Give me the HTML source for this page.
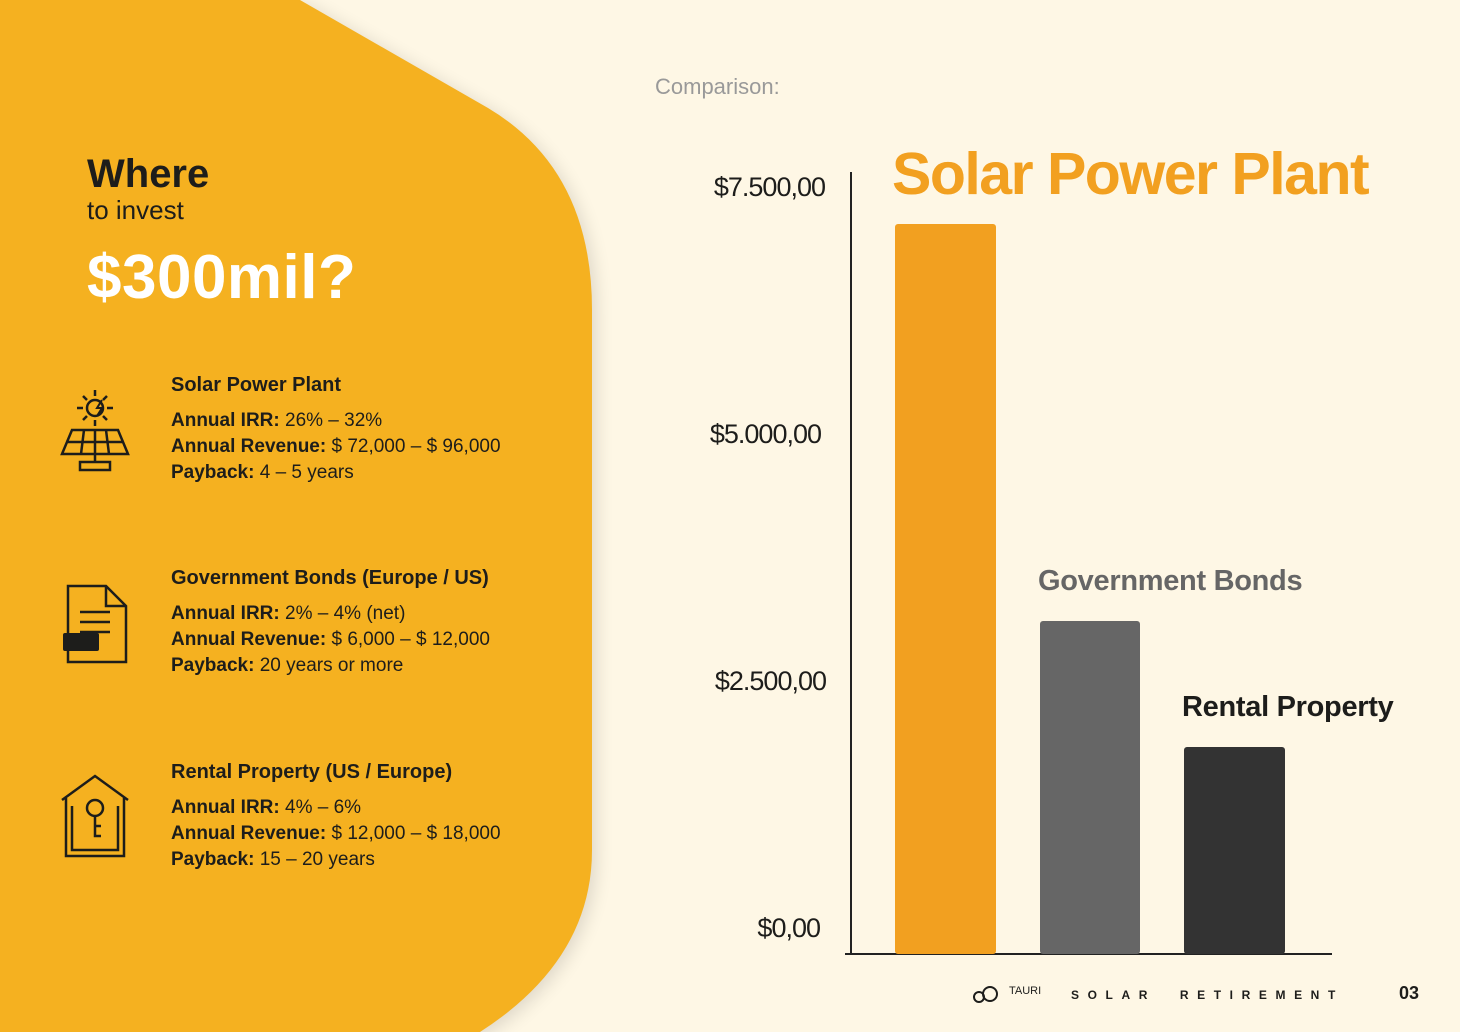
<!DOCTYPE html>
<html><head><meta charset="utf-8"><style>
body{margin:0;width:1460px;height:1032px;background:#FEF7E5;position:relative;overflow:hidden;font-family:"Liberation Sans",sans-serif;color:#1d1d1b}
.a{position:absolute;white-space:nowrap}
.d p{margin:0;font-size:19px;line-height:26px}
.d b{font-weight:bold}
</style></head><body>
<svg class="a" style="left:0;top:0" width="1460" height="1032">
<defs><filter id="s" x="-20%" y="-20%" width="140%" height="140%"><feGaussianBlur stdDeviation="9"/></filter></defs>
<path d="M0,0 L300,0 L488,108 Q592,170 592,310 L592,850 Q592,960 480,1032 L0,1032 Z" fill="#000" opacity="0.13" filter="url(#s)" transform="translate(4,4)"/>
<path d="M0,0 L300,0 L488,108 Q592,170 592,310 L592,850 Q592,960 480,1032 L0,1032 Z" fill="#F5B120"/>
<line x1="851" y1="172" x2="851" y2="955" stroke="#222" stroke-width="2"/>
<line x1="845" y1="954" x2="1332" y2="954" stroke="#222" stroke-width="2"/>
<rect x="895" y="224" width="101" height="730" rx="3" fill="#F2A020"/>
<rect x="1040" y="621" width="100" height="333" rx="3" fill="#666"/>
<rect x="1184" y="747" width="101" height="207" rx="3" fill="#333"/>
<g fill="none" stroke="#1d1d1b" stroke-width="2.5">
<circle cx="95" cy="408" r="8"/><path d="M95,390v6M95,420v6M77,408h6M107,408h6M83,396l4,4M107,396l-4,4M83,420l4-4M107,420l-4-4"/>
<path d="M72,430h46l10,24H62Z M66,442h58 M84,430l-3,24 M95,430v24 M106,430l3,24 M95,454v8 M80,462h30v8H80Z"/>
<path d="M68,586h38l20,20v56H68Z M106,586v20h20 M80,612h30M80,622h30M80,632h30"/>
<path d="M62,800l33-24 33,24 M66,798v58h58v-58 M72,806v44h46v-44"/>
<circle cx="95" cy="808" r="8"/><path d="M95,816v20h6M95,826h6"/>
</g>
<rect x="63" y="633" width="36" height="18" rx="2" fill="#1d1d1b"/>
<path d="M102,400l-5,8h5l-5,8" stroke="#1d1d1b" stroke-width="2" fill="none"/>
<g fill="none" stroke="#1d1d1b" stroke-width="2"><circle cx="990" cy="994" r="7"/><circle cx="979" cy="997" r="5"/></g>
</svg>
<div class="a" style="left:87px;top:152px;font-size:40px;font-weight:bold">Where</div>
<div class="a" style="left:87px;top:195px;font-size:26px">to invest</div>
<div class="a" style="left:87px;top:242px;font-size:62px;font-weight:bold;color:#fff;letter-spacing:0.5px">$300mil?</div>
<div class="a d" style="left:171px;top:372px"><p style="font-size:20px;font-weight:bold">Solar Power Plant</p><p style="margin-top:10px"><b>Annual IRR:</b> 26% – 32%</p><p><b>Annual Revenue:</b> $ 72,000 – $ 96,000</p><p><b>Payback:</b> 4 – 5 years</p></div>
<div class="a d" style="left:171px;top:565px"><p style="font-size:20px;font-weight:bold">Government Bonds (Europe / US)</p><p style="margin-top:10px"><b>Annual IRR:</b> 2% – 4% (net)</p><p><b>Annual Revenue:</b> $ 6,000 – $ 12,000</p><p><b>Payback:</b> 20 years or more</p></div>
<div class="a d" style="left:171px;top:759px"><p style="font-size:20px;font-weight:bold">Rental Property (US / Europe)</p><p style="margin-top:10px"><b>Annual IRR:</b> 4% – 6%</p><p><b>Annual Revenue:</b> $ 12,000 – $ 18,000</p><p><b>Payback:</b> 15 – 20 years</p></div>
<div class="a" style="left:655px;top:74px;font-size:22px;color:#999">Comparison:</div>
<div class="a" style="right:635px;top:172px;font-size:27px;letter-spacing:-1px">$7.500,00</div>
<div class="a" style="right:639px;top:419px;font-size:27px;letter-spacing:-1px">$5.000,00</div>
<div class="a" style="right:634px;top:666px;font-size:27px;letter-spacing:-1px">$2.500,00</div>
<div class="a" style="right:640px;top:913px;font-size:27px;letter-spacing:-1px">$0,00</div>
<div class="a" style="left:892px;top:140px;font-size:59px;font-weight:bold;color:#F2A020;letter-spacing:-1.5px">Solar Power Plant</div>
<div class="a" style="left:1038px;top:565px;font-size:29px;font-weight:bold;color:#666;letter-spacing:-0.3px">Government Bonds</div>
<div class="a" style="left:1182px;top:691px;font-size:29px;font-weight:bold;color:#1d1d1b;letter-spacing:-0.3px">Rental Property</div>
<div class="a" style="left:1009px;top:985px;font-size:11px">TAURI</div>
<div class="a" style="left:1071px;top:988px;font-size:12px;font-weight:bold;letter-spacing:8.6px">SOLAR&nbsp; RETIREMENT</div>
<div class="a" style="left:1399px;top:983px;font-size:18px;font-weight:bold">03</div>
</body></html>
